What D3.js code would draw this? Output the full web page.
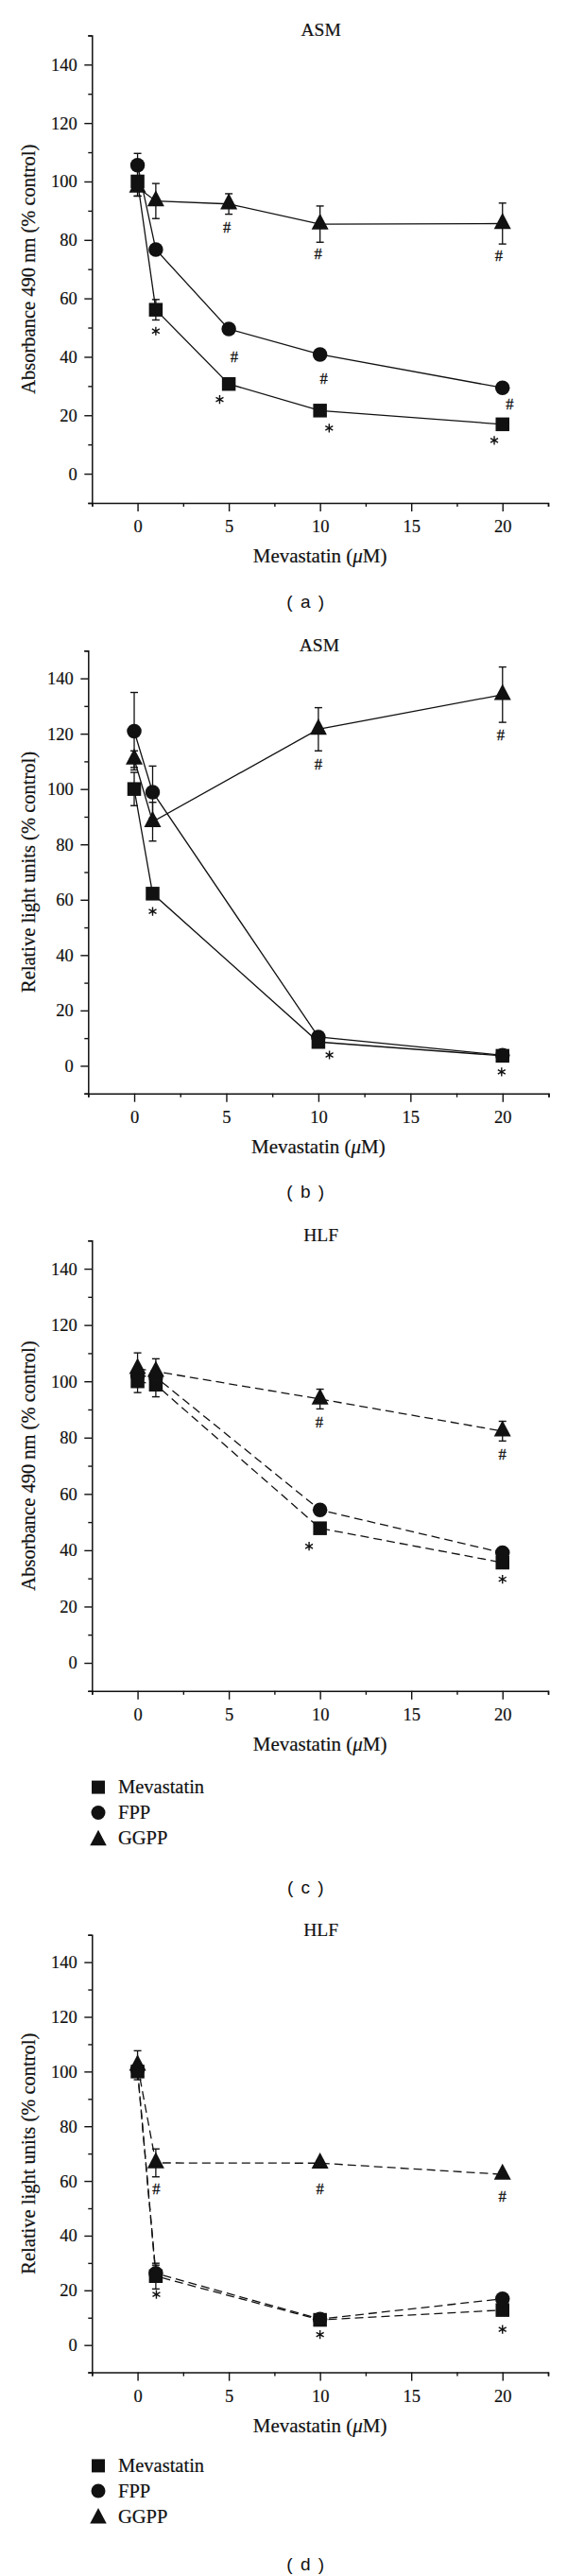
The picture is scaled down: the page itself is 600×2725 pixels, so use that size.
<!DOCTYPE html>
<html><head><meta charset="utf-8">
<script src="https://cdn.jsdelivr.net/npm/d3@7"></script>
<style>body{margin:0;background:#fff} svg{display:block}</style>
</head><body>
<svg id="chart" width="600" height="2725"></svg>
<script>
// ---------------- DATA ----------------
const dosesA = [0, 1, 5, 10, 20];
const dosesB = [0, 1, 10, 20];
const seriesNames = ["Mevastatin", "FPP", "GGPP"];
const yTicks = [0, 20, 40, 60, 80, 100, 120, 140];
const yMinor = [-10, 10, 30, 50, 70, 90, 110, 130, 150];
const xTicks = [0, 5, 10, 15, 20];
const xMinor = [-2.5, 2.5, 7.5, 12.5, 17.5, 22.5];

// (a) ASM, absorbance
const aMev = [100, 56.1, 30.7, 21.6, 16.9];
const aMevErr = [5, 3.5, 1.5, 1, 1];
const aFpp = [105.6, 76.7, 49.5, 40.8, 29.4];
const aFppErr = [4, 1, 1.5, 1, 1];
const aGgpp = [98, 93.3, 92.3, 85.4, 85.6];
const aGgppErr = [3, 6, 3.5, 6.2, 7];
const aStars = [[1, 48.8], [4.5, 25.4], [10.5, 15.6], [19.55, 11.4]];
const aHashes = [[4.9, 84.3], [5.3, 39.9], [9.9, 75.3], [10.2, 32.6], [19.8, 74.7], [20.4, 23.7]];

// (b) ASM, relative light units
const bMev = [100, 62.2, 8.6, 3.6];
const bMevErr = [6, 2, 1, 1];
const bFpp = [120.9, 98.9, 10.4, 3.8];
const bFppErr = [14, 9.4, 1, 1];
const bGgpp = [110.8, 88.2, 121.6, 134.1];
const bGgppErr = [3, 7, 7.8, 10];
const bStars = [[1, 55.8], [10.6, 3.9], [19.95, -2.2]];
const bHashes = [[10, 109.1], [19.9, 119.5]];

// (c) HLF, absorbance
const cMev = [100, 98.8, 47.8, 35.6];
const cMevErr = [4, 4.3, 1, 1];
const cFpp = [102, 101.5, 54.3, 39.1];
const cFppErr = [2, 2, 1, 1];
const cGgpp = [104.5, 103.5, 93.7, 82.3];
const cGgppErr = [5.6, 4.5, 3.5, 3.5];
const cStars = [[9.4, 41.4], [20, 29.7]];
const cHashes = [[9.96, 85.4], [20, 74]];

// (d) HLF, relative light units
const dMev = [100, 25.2, 9.2, 12.8];
const dMevErr = [2, 4.7, 1, 1];
const dFpp = [100.6, 26.2, 9.5, 16.9];
const dFppErr = [2, 3, 1, 1];
const dGgpp = [102.3, 66.6, 66.5, 62.4];
const dGgppErr = [5.3, 5.1, 1, 1];
const dStars = [[1.03, 18.5], [10, 3.8], [20, 5.7]];
const dHashes = [[1.03, 57.1], [10, 57.1], [20, 54.3]];

const titles = ["ASM", "ASM", "HLF", "HLF"];
const yLabels = ["Absorbance 490 nm (% control)", "Relative light units (% control)",
                 "Absorbance 490 nm (% control)", "Relative light units (% control)"];
const panelLabels = ["( a )", "( b )", "( c )", "( d )"];

// ---------------- LAYOUT ----------------
const SERIF = "'Liberation Serif','Times New Roman',serif";
const SANS = "'Liberation Sans',Arial,sans-serif";
const INK = "#111";

const symSquare = {draw(ctx, s){ const h = s/2; ctx.rect(-h, -h, s, s); }};
const symCircle = {draw(ctx, s){ const r = s/2; ctx.moveTo(r, 0); ctx.arc(0, 0, r, 0, 2*Math.PI); }};
const symTri = {draw(ctx, s){ const w = s, h = s*0.95;
  ctx.moveTo(0, -h*2/3); ctx.lineTo(w/2, h/3); ctx.lineTo(-w/2, h/3); ctx.closePath(); }};
const symStar = {draw(ctx, r){ for (let k = 0; k < 3; k++) { const a = Math.PI/2 + k*Math.PI/3;
  ctx.moveTo(r*Math.cos(a), r*Math.sin(a)); ctx.lineTo(-r*Math.cos(a), -r*Math.sin(a)); } }};
const symbols = [[symSquare, 14.5], [symCircle, 15.5], [symTri, 18]];

const panels = [
  {x: dosesA, series: [[aMev, aMevErr], [aFpp, aFppErr], [aGgpp, aGgppErr]], stars: aStars, hashes: aHashes,
   dash: null, L: {x0: 97.3, x1: 580, yT: 37.4, yB: 532, lab: 643, leg: null}},
  {x: dosesB, series: [[bMev, bMevErr], [bFpp, bFppErr], [bGgpp, bGgppErr]], stars: bStars, hashes: bHashes,
   dash: null, L: {x0: 93.3, x1: 580.5, yT: 688.3, yB: 1156.7, lab: 1267, leg: null}},
  {x: dosesB, series: [[cMev, cMevErr], [cFpp, cFppErr], [cGgpp, cGgppErr]], stars: cStars, hashes: cHashes,
   dash: "9,5", L: {x0: 97.3, x1: 580, yT: 1312.3, yB: 1788.8, lab: 2003, leg: [1890.6, 1917.5, 1944.8]}},
  {x: dosesB, series: [[dMev, dMevErr], [dFpp, dFppErr], [dGgpp, dGgppErr]], stars: dStars, hashes: dHashes,
   dash: "9,5", L: {x0: 97.3, x1: 580, yT: 2046.7, yB: 2509.6, lab: 2719, leg: [2608.4, 2635, 2662]}}
];

const svg = d3.select("#chart");

panels.forEach((p, i) => {
  const L = p.L;
  const x = d3.scaleLinear().domain([-2.5, 22.5]).range([L.x0, L.x1]);
  const y = d3.scaleLinear().domain([-10, 150]).range([L.yB, L.yT]);
  const g = svg.append("g");

  // axes
  g.append("g").attr("transform", `translate(0,${L.yB})`)
    .call(d3.axisBottom(x).tickValues(xTicks).tickSize(9).tickSizeOuter(4).tickPadding(9).tickFormat(d3.format("d")));
  g.append("g").attr("transform", `translate(0,${L.yB})`)
    .call(d3.axisBottom(x).tickValues(xMinor).tickSize(4).tickFormat(""))
    .select(".domain").remove();
  g.append("g").attr("transform", `translate(${L.x0},0)`)
    .call(d3.axisLeft(y).tickValues(yTicks).tickSize(8).tickSizeOuter(4).tickPadding(7.6).tickFormat(d3.format("d")));
  g.append("g").attr("transform", `translate(${L.x0},0)`)
    .call(d3.axisLeft(y).tickValues(yMinor).tickSize(4).tickFormat(""))
    .select(".domain").remove();
  g.selectAll(".domain").attr("stroke", INK).attr("stroke-width", 1.5);
  g.selectAll(".tick line").attr("stroke", INK).attr("stroke-width", 1.4);
  g.selectAll(".tick text").attr("font-family", SERIF).attr("font-size", 18.5).attr("fill", INK)
    .attr("stroke", INK).attr("stroke-width", 0.2);

  // titles
  g.append("text").attr("x", x(10) + 1).attr("y", L.yT + 0.8).attr("text-anchor", "middle")
    .attr("font-family", SERIF).attr("font-size", 19.5).attr("fill", INK)
    .attr("stroke", INK).attr("stroke-width", 0.2).text(titles[i]);
  const xt = g.append("text").attr("x", x(10)).attr("y", L.yB + 63).attr("text-anchor", "middle")
    .attr("font-family", SERIF).attr("font-size", 21).attr("fill", INK)
    .attr("stroke", INK).attr("stroke-width", 0.2);
  xt.append("tspan").text("Mevastatin (");
  xt.append("tspan").attr("font-style", "italic").text("\u03bc");
  xt.append("tspan").text("M)");
  g.append("text").attr("transform", `translate(37,${(L.yT + L.yB)/2}) rotate(-90)`)
    .attr("text-anchor", "middle").attr("font-family", SERIF).attr("font-size", 20.5)
    .attr("fill", INK).attr("stroke", INK).attr("stroke-width", 0.2).text(yLabels[i]);

  // lines
  const line = d3.line().x(d => x(d[0])).y(d => y(d[1]));
  p.series.forEach(([vals]) => {
    g.append("path").datum(p.x.map((d, k) => [d, vals[k]]))
      .attr("d", line).attr("fill", "none").attr("stroke", INK).attr("stroke-width", 1.3)
      .attr("stroke-dasharray", p.dash);
  });

  // error bars
  p.series.forEach(([vals, errs]) => {
    p.x.forEach((d, k) => {
      const cx = x(d), lo = y(vals[k] - errs[k]), hi = y(vals[k] + errs[k]);
      g.append("line").attr("x1", cx).attr("x2", cx).attr("y1", lo).attr("y2", hi)
        .attr("stroke", INK).attr("stroke-width", 1.3);
      [lo, hi].forEach(yy => g.append("line").attr("x1", cx - 4).attr("x2", cx + 4)
        .attr("y1", yy).attr("y2", yy).attr("stroke", INK).attr("stroke-width", 1.4));
    });
  });

  // markers
  p.series.forEach(([vals], s) => {
    const sym = d3.symbol().type(symbols[s][0]).size(symbols[s][1]);
    g.selectAll(null).data(p.x.map((d, k) => [d, vals[k]])).join("path")
      .attr("transform", d => `translate(${x(d[0])},${y(d[1])})`)
      .attr("d", sym).attr("fill", INK);
  });

  // significance marks
  const star = d3.symbol().type(symStar).size(4.6);
  g.selectAll(null).data(p.stars).join("path")
    .attr("transform", d => `translate(${x(d[0])},${y(d[1])})`)
    .attr("d", star).attr("fill", "none").attr("stroke", INK).attr("stroke-width", 1.4);
  g.selectAll(null).data(p.hashes).join("text")
    .attr("x", d => x(d[0])).attr("y", d => y(d[1])).attr("dy", "0.34em")
    .attr("text-anchor", "middle").attr("font-family", SERIF).attr("font-size", 16.5)
    .attr("fill", INK).attr("stroke", INK).attr("stroke-width", 0.3).text("#");

  // legend
  if (L.leg) {
    seriesNames.forEach((n, s) => {
      const sym = d3.symbol().type(symbols[s][0]).size(symbols[s][1] - 0.5);
      g.append("path").attr("transform", `translate(104,${L.leg[s] + (s === 2 ? 2 : 0)})`)
        .attr("d", sym).attr("fill", INK);
      g.append("text").attr("x", 125).attr("y", L.leg[s] + 6.5)
        .attr("font-family", SERIF).attr("font-size", 20.5).attr("fill", INK)
        .attr("stroke", INK).attr("stroke-width", 0.2).text(n);
    });
  }

  // panel label
  g.append("text").attr("x", 324).attr("y", L.lab).attr("text-anchor", "middle")
    .attr("font-family", SANS).attr("font-size", 19).attr("letter-spacing", 1.5).attr("fill", INK)
    .text(panelLabels[i]);
});
</script>
</body></html>
